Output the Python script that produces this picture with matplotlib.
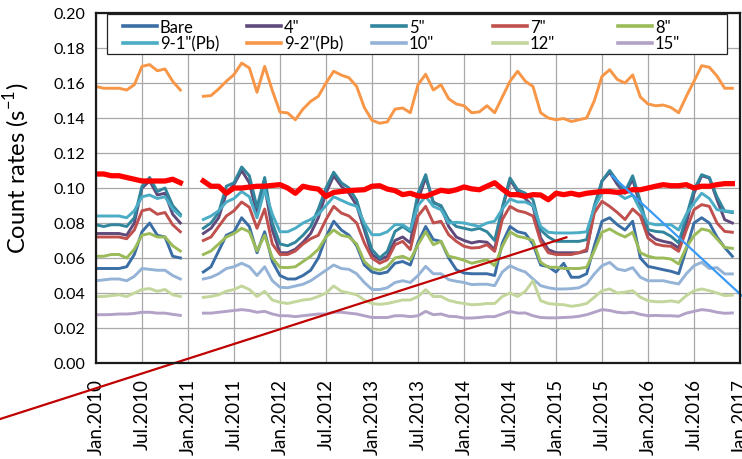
import numpy as np
import matplotlib
matplotlib.use("Agg")
import matplotlib.pyplot as plt
from matplotlib.patches import Rectangle
from matplotlib.legend import Legend

plt.rcParams['font.family'] = ['Lato', 'DejaVu Sans']

nan = np.nan
# month index, 0 = Jan.2010 ... 83 = Dec.2016 (Jan/Feb 2011 missing)
months = np.arange(84)

bare = [0.054, 0.054, 0.054, 0.054, 0.055, 0.062, 0.075, 0.080, 0.073, 0.072, 0.061, 0.060, nan, nan,
        0.052, 0.055, 0.064, 0.073, 0.075, 0.083, 0.078, 0.063, 0.075, 0.058,
        0.050, 0.048, 0.048, 0.050, 0.053, 0.060, 0.072, 0.081, 0.076, 0.073, 0.067, 0.056,
        0.052, 0.051, 0.052, 0.057, 0.058, 0.056, 0.069, 0.078, 0.0705, 0.0695, 0.060, 0.0533,
        0.0514, 0.051, 0.051, 0.051, 0.050, 0.0686, 0.078, 0.075, 0.074, 0.068, 0.056, 0.055,
        0.052, 0.057, 0.049, 0.049, 0.051, 0.067, 0.081, 0.083, 0.079, 0.076, 0.081, 0.060,
        0.0552, 0.0543, 0.0533, 0.0524, 0.051, 0.065, 0.080, 0.083, 0.080, 0.072, 0.066, 0.061]
in4 = [0.074, 0.074, 0.074, 0.074, 0.073, 0.080, 0.100, 0.104, 0.096, 0.097, 0.085, 0.080, nan, nan,
       0.074, 0.077, 0.083, 0.097, 0.102, 0.110, 0.103, 0.085, 0.101, 0.076,
       0.063, 0.063, 0.065, 0.069, 0.074, 0.083, 0.097, 0.107, 0.101, 0.097, 0.090, 0.076,
       0.062, 0.059, 0.061, 0.070, 0.072, 0.0686, 0.093, 0.106, 0.092, 0.0895, 0.078, 0.072,
       0.070, 0.0686, 0.0695, 0.069, 0.0648, 0.0876, 0.1048, 0.098, 0.094, 0.0895, 0.0714, 0.0648,
       0.063, 0.063, 0.063, 0.063, 0.064, 0.088, 0.104, 0.109, 0.102, 0.097, 0.105, 0.0895,
       0.0743, 0.0708, 0.0695, 0.0686, 0.0657, 0.080, 0.097, 0.107, 0.1057, 0.0933, 0.0819, 0.080]
in5 = [0.079, 0.078, 0.079, 0.079, 0.078, 0.083, 0.101, 0.106, 0.098, 0.100, 0.090, 0.085, nan, nan,
       0.077, 0.080, 0.086, 0.101, 0.103, 0.112, 0.107, 0.089, 0.106, 0.080,
       0.068, 0.067, 0.069, 0.073, 0.078, 0.088, 0.100, 0.109, 0.103, 0.100, 0.093, 0.078,
       0.0648, 0.060, 0.0638, 0.0752, 0.078, 0.075, 0.097, 0.1076, 0.0914, 0.090, 0.0819, 0.078,
       0.077, 0.076, 0.077, 0.075, 0.070, 0.089, 0.1057, 0.099, 0.097, 0.0933, 0.076, 0.072,
       0.0695, 0.0695, 0.0695, 0.0695, 0.0705, 0.090, 0.104, 0.110, 0.104, 0.098, 0.107, 0.0924,
       0.0762, 0.0752, 0.0748, 0.0724, 0.0686, 0.0838, 0.099, 0.1076, 0.106, 0.095, 0.0867, 0.086]
in7 = [0.072, 0.072, 0.072, 0.072, 0.071, 0.076, 0.087, 0.088, 0.085, 0.086, 0.079, 0.075, nan, nan,
       0.070, 0.072, 0.078, 0.084, 0.087, 0.092, 0.089, 0.077, 0.088, 0.068,
       0.062, 0.062, 0.064, 0.068, 0.071, 0.073, 0.082, 0.0895, 0.0857, 0.084, 0.080, 0.0686,
       0.060, 0.057, 0.059, 0.0676, 0.0695, 0.0648, 0.084, 0.0895, 0.080, 0.081, 0.0733, 0.0695,
       0.0667, 0.0657, 0.066, 0.0676, 0.0638, 0.082, 0.0895, 0.087, 0.086, 0.084, 0.0695, 0.063,
       0.062, 0.062, 0.062, 0.063, 0.0648, 0.0857, 0.0924, 0.0895, 0.086, 0.082, 0.088, 0.084,
       0.0714, 0.068, 0.067, 0.0667, 0.0638, 0.076, 0.0876, 0.0905, 0.0895, 0.080, 0.0752, 0.0747]
in8 = [0.061, 0.061, 0.062, 0.062, 0.060, 0.065, 0.073, 0.074, 0.072, 0.072, 0.067, 0.064, nan, nan,
       0.062, 0.064, 0.068, 0.072, 0.074, 0.077, 0.075, 0.064, 0.073, 0.060,
       0.0547, 0.0545, 0.055, 0.058, 0.061, 0.065, 0.072, 0.076, 0.073, 0.072, 0.068, 0.058,
       0.054, 0.053, 0.055, 0.060, 0.061, 0.059, 0.0676, 0.075, 0.0676, 0.0695, 0.061, 0.060,
       0.0587, 0.057, 0.058, 0.059, 0.0556, 0.0667, 0.075, 0.0724, 0.0715, 0.070, 0.0575, 0.0547,
       0.0547, 0.054, 0.054, 0.054, 0.0547, 0.0642, 0.0747, 0.0766, 0.074, 0.072, 0.0747, 0.063,
       0.061, 0.060, 0.060, 0.0594, 0.0566, 0.066, 0.0728, 0.0766, 0.0756, 0.0709, 0.0661, 0.0655]
in9_1 = [0.084, 0.084, 0.084, 0.084, 0.083, 0.087, 0.095, 0.096, 0.094, 0.095, 0.088, 0.084, nan, nan,
         0.082, 0.084, 0.087, 0.092, 0.094, 0.098, 0.095, 0.083, 0.099, 0.085,
         0.075, 0.075, 0.077, 0.080, 0.082, 0.085, 0.090, 0.095, 0.093, 0.091, 0.0895, 0.080,
         0.0733, 0.0733, 0.075, 0.079, 0.079, 0.076, 0.090, 0.0952, 0.0895, 0.0876, 0.080, 0.0804,
         0.080, 0.079, 0.078, 0.080, 0.081, 0.088, 0.0937, 0.092, 0.092, 0.090, 0.078, 0.0747,
         0.0743, 0.0743, 0.0743, 0.0745, 0.075, 0.089, 0.097, 0.099, 0.097, 0.094, 0.096, 0.0876,
         0.080, 0.079, 0.079, 0.079, 0.076, 0.085, 0.0914, 0.097, 0.094, 0.0876, 0.087, 0.0865]
in9_2 = [0.158, 0.157, 0.157, 0.157, 0.156, 0.159, 0.1695, 0.1705, 0.167, 0.168, 0.161, 0.156, nan, nan,
         0.1524, 0.1528, 0.1566, 0.161, 0.1648, 0.1714, 0.1686, 0.1547, 0.1695, 0.1557,
         0.1434, 0.1429, 0.139, 0.1451, 0.1495, 0.1524, 0.160, 0.1667, 0.1645, 0.163, 0.158, 0.146,
         0.1387, 0.1370, 0.1378, 0.1451, 0.1457, 0.143, 0.159, 0.165, 0.156, 0.159, 0.151, 0.148,
         0.147, 0.143, 0.1435, 0.147, 0.143, 0.152, 0.161, 0.1667, 0.161, 0.158, 0.143, 0.140,
         0.139, 0.1397, 0.138, 0.139, 0.140, 0.1499, 0.1638, 0.1676, 0.162, 0.160, 0.1646, 0.152,
         0.148, 0.147, 0.1474, 0.146, 0.143, 0.1524, 0.161, 0.1699, 0.169, 0.164, 0.157, 0.157]
in10 = [0.047, 0.0475, 0.048, 0.048, 0.047, 0.0495, 0.054, 0.0535, 0.053, 0.053, 0.050, 0.048, nan, nan,
        0.048, 0.049, 0.051, 0.054, 0.055, 0.057, 0.055, 0.050, 0.055, 0.047,
        0.0433, 0.043, 0.044, 0.045, 0.047, 0.050, 0.053, 0.056, 0.054, 0.0535, 0.051, 0.046,
        0.042, 0.042, 0.043, 0.046, 0.047, 0.046, 0.050, 0.0552, 0.051, 0.051, 0.0476, 0.0467,
        0.046, 0.0448, 0.045, 0.045, 0.0442, 0.052, 0.0556, 0.0535, 0.052, 0.048, 0.0442, 0.043,
        0.0423, 0.0423, 0.0425, 0.043, 0.0452, 0.0509, 0.0556, 0.0575, 0.0537, 0.0528, 0.0545, 0.049,
        0.047, 0.047, 0.047, 0.046, 0.0452, 0.051, 0.0556, 0.0575, 0.054, 0.0545, 0.0509, 0.0509]
in12 = [0.038, 0.038, 0.0385, 0.039, 0.038, 0.040, 0.042, 0.0425, 0.041, 0.042, 0.039, 0.038, nan, nan,
        0.0375, 0.038, 0.039, 0.041, 0.042, 0.044, 0.042, 0.038, 0.041, 0.036,
        0.0347, 0.034, 0.035, 0.036, 0.0365, 0.038, 0.040, 0.044, 0.041, 0.040, 0.039, 0.036,
        0.034, 0.0335, 0.034, 0.035, 0.036, 0.036, 0.038, 0.0419, 0.038, 0.038, 0.0358, 0.0347,
        0.034, 0.0333, 0.0335, 0.034, 0.034, 0.038, 0.040, 0.038, 0.041, 0.047, 0.0356, 0.034,
        0.0335, 0.0333, 0.0324, 0.033, 0.034, 0.0376, 0.0413, 0.0423, 0.040, 0.0405, 0.0413, 0.0376,
        0.0356, 0.035, 0.035, 0.0355, 0.0347, 0.0385, 0.0413, 0.0423, 0.0413, 0.040, 0.0385, 0.0388]
in15 = [0.0276, 0.0276, 0.0277, 0.028, 0.028, 0.0283, 0.029, 0.029, 0.0285, 0.0285, 0.0278, 0.0272, nan, nan,
        0.0285, 0.0285, 0.029, 0.0295, 0.030, 0.0305, 0.030, 0.029, 0.0295, 0.028,
        0.027, 0.027, 0.0265, 0.027, 0.0275, 0.028, 0.028, 0.029, 0.029, 0.0285, 0.028, 0.027,
        0.026, 0.026, 0.026, 0.027, 0.027, 0.0265, 0.027, 0.0295, 0.0276, 0.028, 0.0267, 0.0265,
        0.0257, 0.0257, 0.026, 0.0265, 0.0265, 0.028, 0.0295, 0.0285, 0.0286, 0.027, 0.026, 0.0258,
        0.0258, 0.026, 0.0262, 0.0267, 0.0276, 0.029, 0.0305, 0.030, 0.029, 0.0286, 0.029, 0.0278,
        0.027, 0.0272, 0.027, 0.027, 0.0267, 0.0285, 0.0295, 0.0305, 0.030, 0.029, 0.0284, 0.0286]
ref = [0.108, 0.108, 0.107, 0.107, 0.106, 0.105, 0.104, 0.104, 0.104, 0.104, 0.105, 0.103, nan, nan,
       0.104, 0.101, 0.101, 0.097, 0.100, 0.100, 0.1005, 0.101, 0.101, 0.1015,
       0.1019, 0.100, 0.097, 0.101, 0.100, 0.0994, 0.0952, 0.0975, 0.098, 0.0985, 0.0988, 0.099,
       0.101, 0.1013, 0.0994, 0.0985, 0.0962, 0.097, 0.0955, 0.0952, 0.097, 0.0987, 0.098, 0.099,
       0.1006, 0.0995, 0.099, 0.101, 0.103, 0.0994, 0.0962, 0.0962, 0.0952, 0.0962, 0.096, 0.0933,
       0.097, 0.0962, 0.097, 0.096, 0.097, 0.0975, 0.098, 0.098, 0.0975, 0.098, 0.099, 0.099,
       0.100, 0.101, 0.1019, 0.1013, 0.1013, 0.1019, 0.100, 0.101, 0.101, 0.1019, 0.1025, 0.1025]

# hand drawn guide lines (month, value)
red_guide_x = [-12.5, 61.35]
red_guide_y = [-0.032, 0.0718]
blue_guide_x = [67.3, 85.0]
blue_guide_y = [0.107, 0.0354]

labels = ['Bare', '4"', '5"', '7"', '8"', '9-1"(Pb)', '9-2"(Pb)', '10"', '12"', '15"']
series = [bare, in4, in5, in7, in8, in9_1, in9_2, in10, in12, in15]
colors = ['#3A6EA5', '#604A7B', '#31859C', '#C0504D', '#9BBB59',
          '#4BACC6', '#F79646', '#95B3D7', '#C3D69B', '#B3A2C7']

tick_months = list(range(0, 85, 6))
tick_labels = ['Jan.2010', 'Jul.2010', 'Jan.2011', 'Jul.2011', 'Jan.2012', 'Jul.2012',
               'Jan.2013', 'Jul.2013', 'Jan.2014', 'Jul.2014', 'Jan.2015', 'Jul.2015',
               'Jan.2016', 'Jul.2016', 'Jan.2017']

fig = plt.figure(figsize=(7.42, 4.60), dpi=100)
ax = fig.add_axes([96 / 742, 1 - 364 / 460, 644 / 742, 350 / 460])

lines = {}
for lab, vals, col in zip(labels, series, colors):
    ln, = ax.plot(months, vals, color=col, lw=2.1, zorder=3)
    lines[lab] = ln
ax.plot(months, ref, color='#FF0000', lw=3.8, zorder=4)

ax.plot(red_guide_x, red_guide_y, color='#C00000', lw=1.6, zorder=5, clip_on=False)
ax.plot(blue_guide_x, blue_guide_y, color='#3A9AF5', lw=1.6, zorder=5, clip_on=False)

ax.set_xlim(0, 84)
ax.set_ylim(0, 0.20)
ax.set_xticks(tick_months)
ax.set_xticklabels(tick_labels, rotation=90, fontsize=13.5, va='top')
ax.set_yticks(np.arange(0, 0.201, 0.02))
ax.set_yticklabels(['%.2f' % v for v in np.arange(0, 0.201, 0.02)], fontsize=11.5)
ax.tick_params(axis='x', length=0, pad=11)
ax.tick_params(axis='y', length=0, pad=8)
ax.grid(True, color='#A8A8A8', lw=0.9)
ax.set_axisbelow(True)
for s in ax.spines.values():
    s.set_color('#1A1A1A')
    s.set_linewidth(1.6)
    s.set_zorder(6)

ax.set_ylabel('Count rates (s$^{\\mathregular{-1}}$)', fontsize=17)
ax.yaxis.set_label_coords(-0.1, 0.56)

# legend: frame plus five columns of two entries
ax.add_patch(Rectangle((0.0175, 0.883), 0.9625, 0.114, transform=ax.transAxes,
                       facecolor='white', edgecolor='#222222', lw=0.9, zorder=7))
col_x = [0.0424, 0.235, 0.429, 0.617, 0.811]
for i, cx in enumerate(col_x):
    hs = [lines[labels[i]], lines[labels[i + 5]]]
    leg = Legend(ax, hs, [labels[i], labels[i + 5]], loc='upper left',
                 bbox_to_anchor=(cx, 0.984), borderaxespad=0, borderpad=0,
                 frameon=False, fontsize=12, handlelength=2.0,
                 handletextpad=0.2, labelspacing=0.05)
    leg.set_zorder(8)
    for h in leg.get_lines():
        h.set_linewidth(2.6)
    ax.add_artist(leg)

fig.savefig('out.png', dpi=100)
